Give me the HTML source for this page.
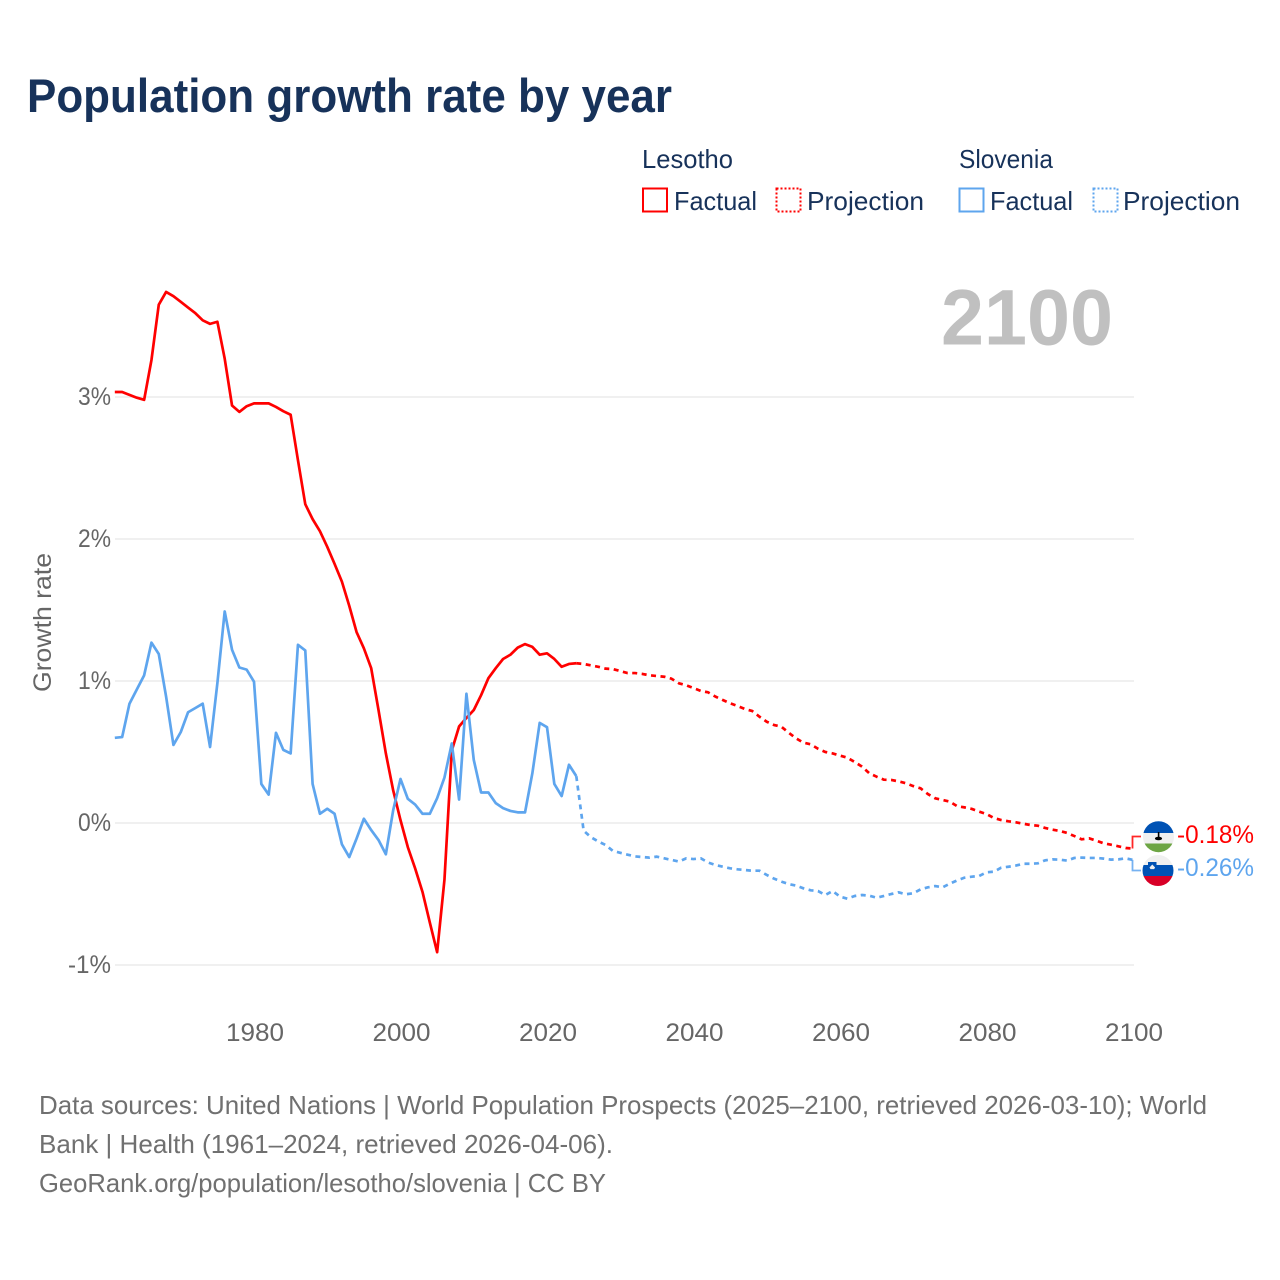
<!DOCTYPE html>
<html lang="en">
<head>
<meta charset="utf-8">
<title>Population growth rate by year</title>
<style>
html,body{margin:0;padding:0;background:#fff;width:1280px;height:1280px;overflow:hidden}
svg{display:block}
text{font-family:"Liberation Sans",sans-serif}
</style>
</head>
<body>
<svg id="chart" xmlns="http://www.w3.org/2000/svg" width="1280" height="1280" viewBox="0 0 1280 1280">
  <rect x="0" y="0" width="1280" height="1280" fill="#fff"/>
  <text x="27" y="112" font-size="47" font-weight="700" fill="#17325a" textLength="645" lengthAdjust="spacingAndGlyphs">Population growth rate by year</text>

  <g font-size="26" fill="#17325a">
    <text x="642" y="168" textLength="91" lengthAdjust="spacingAndGlyphs">Lesotho</text>
    <text x="959" y="168" textLength="94" lengthAdjust="spacingAndGlyphs">Slovenia</text>
    <rect x="643" y="188.5" width="24" height="23" fill="none" stroke="#ff0000" stroke-width="2"/>
    <text x="674" y="210" textLength="83" lengthAdjust="spacingAndGlyphs">Factual</text>
    <rect x="776.5" y="188.5" width="24" height="23" fill="none" stroke="#ff0000" stroke-width="2" stroke-dasharray="2 2"/>
    <text x="807" y="210" textLength="117" lengthAdjust="spacingAndGlyphs">Projection</text>
    <rect x="959.5" y="188.5" width="24" height="23" fill="none" stroke="#5ea5ee" stroke-width="2"/>
    <text x="990" y="210" textLength="83" lengthAdjust="spacingAndGlyphs">Factual</text>
    <rect x="1093.5" y="188.5" width="24" height="23" fill="none" stroke="#5ea5ee" stroke-width="2" stroke-dasharray="2 2"/>
    <text x="1123" y="210" textLength="117" lengthAdjust="spacingAndGlyphs">Projection</text>
  </g>

  <text x="941" y="344.5" font-size="79" font-weight="700" fill="#c0c0c0" textLength="172" lengthAdjust="spacingAndGlyphs">2100</text>

  <g id="grid"></g>
  <g id="yticks" font-size="25" fill="#666"></g>
  <g id="xticks" font-size="25" fill="#666"></g>
  <text transform="translate(51,622.5) rotate(-90)" text-anchor="middle" font-size="25" fill="#666" textLength="139" lengthAdjust="spacingAndGlyphs">Growth rate</text>

  <g id="series"></g>

  <defs>
    <clipPath id="clip-lesotho"><circle cx="1158.5" cy="836.7" r="15.5"/></clipPath>
    <clipPath id="clip-slovenia"><circle cx="1158" cy="870.5" r="15.5"/></clipPath>
  </defs>
  <g clip-path="url(#clip-lesotho)">
    <rect x="1143" y="821" width="31" height="12" fill="#0052b4"/>
    <rect x="1143" y="833" width="31" height="10.5" fill="#f0f0f0"/>
    <rect x="1143" y="843.5" width="31" height="9" fill="#6da544"/>
    <rect x="1157.8" y="832" width="1.6" height="6" fill="#000"/>
    <ellipse cx="1158.5" cy="838.5" rx="3.6" ry="1.8" fill="#000"/>
  </g>
  <g clip-path="url(#clip-slovenia)">
    <rect x="1142" y="855" width="32" height="10" fill="#f0f0f0"/>
    <rect x="1142" y="865" width="32" height="11" fill="#0052b4"/>
    <rect x="1142" y="876" width="32" height="11" fill="#d80027"/>
    <path d="M1148 862h8.5v5.5c0 1.8-2.4 3-4.2 3.5-1.8-.5-4.3-1.7-4.3-3.5z" fill="#0052b4"/>
    <path d="M1149.5 867.5l2.8-3 2.8 3-1 1.6h-3.6z" fill="#f0f0f0"/>
  </g>

  <g id="endlabels" font-size="25"></g>

  <g font-size="26" fill="#707070">
    <text x="39" y="1114" textLength="1168" lengthAdjust="spacingAndGlyphs">Data sources: United Nations | World Population Prospects (2025–2100, retrieved 2026-03-10); World</text>
    <text x="39" y="1153" textLength="574" lengthAdjust="spacingAndGlyphs">Bank | Health (1961–2024, retrieved 2026-04-06).</text>
    <text x="39" y="1192" textLength="567" lengthAdjust="spacingAndGlyphs">GeoRank.org/population/lesotho/slovenia | CC BY</text>
  </g>
</svg>
<script>
var factualStartYear = 1961;
var projectionStartYear = 2025;
var yTickValues = [3, 2, 1, 0, -1];
var yTickLabels = ['3%', '2%', '1%', '0%', '-1%'];
var xTickValues = [1980, 2000, 2020, 2040, 2060, 2080, 2100];
var xTickLabels = ['1980', '2000', '2020', '2040', '2060', '2080', '2100'];
var lesothoFactual = [3.035,3.035,3.015,2.995,2.98,3.26,3.65,3.74,3.71,3.67,3.63,3.59,3.54,3.515,3.53,3.27,2.94,2.895,2.935,2.955,2.955,2.955,2.93,2.90,2.875,2.555,2.245,2.14,2.055,1.945,1.825,1.70,1.53,1.345,1.23,1.09,0.795,0.49,0.23,0.02,-0.17,-0.32,-0.485,-0.70,-0.91,-0.40,0.51,0.68,0.74,0.795,0.90,1.02,1.09,1.155,1.185,1.235,1.26,1.24,1.185,1.195,1.155,1.10,1.12,1.125];
var lesothoProjection = [1.12,1.11,1.10,1.087,1.084,1.07,1.056,1.056,1.05,1.04,1.035,1.03,1.016,0.984,0.97,0.95,0.93,0.92,0.89,0.866,0.843,0.824,0.803,0.789,0.749,0.713,0.69,0.678,0.636,0.596,0.566,0.554,0.523,0.50,0.49,0.475,0.46,0.43,0.397,0.35,0.326,0.305,0.303,0.293,0.28,0.26,0.244,0.204,0.174,0.162,0.15,0.118,0.11,0.099,0.08,0.063,0.035,0.021,0.012,0.005,-0.005,-0.014,-0.019,-0.035,-0.047,-0.056,-0.07,-0.092,-0.115,-0.108,-0.125,-0.143,-0.153,-0.164,-0.176,-0.18];
var sloveniaFactual = [0.60,0.605,0.84,0.94,1.04,1.27,1.19,0.89,0.55,0.64,0.78,0.81,0.84,0.535,0.985,1.49,1.22,1.095,1.08,0.995,0.275,0.20,0.635,0.515,0.49,1.255,1.215,0.275,0.065,0.10,0.065,-0.15,-0.24,-0.11,0.03,-0.05,-0.12,-0.22,0.09,0.31,0.17,0.13,0.065,0.065,0.175,0.32,0.56,0.165,0.91,0.445,0.215,0.215,0.14,0.105,0.085,0.075,0.075,0.35,0.705,0.675,0.275,0.19,0.41,0.33];
var sloveniaProjection = [-0.054,-0.10,-0.13,-0.155,-0.197,-0.21,-0.223,-0.235,-0.24,-0.244,-0.237,-0.249,-0.26,-0.272,-0.249,-0.254,-0.249,-0.278,-0.296,-0.308,-0.319,-0.326,-0.331,-0.336,-0.336,-0.366,-0.392,-0.413,-0.43,-0.441,-0.46,-0.474,-0.479,-0.507,-0.479,-0.519,-0.533,-0.514,-0.507,-0.512,-0.526,-0.514,-0.50,-0.488,-0.502,-0.495,-0.467,-0.453,-0.444,-0.453,-0.427,-0.404,-0.385,-0.378,-0.373,-0.347,-0.343,-0.315,-0.308,-0.30,-0.287,-0.287,-0.284,-0.263,-0.256,-0.258,-0.265,-0.246,-0.244,-0.246,-0.246,-0.251,-0.258,-0.256,-0.249,-0.26];

var NS = 'http://www.w3.org/2000/svg';
var RED = '#ff0000';
var BLUE = '#5ea5ee';
function xScale(year) { return 254 + (year - 1980) * 7.325; }
function yScale(value) { return 823 - value * 142; }

function linePath(values, startYear, prefixPoint) {
  var d = prefixPoint ? 'M' + xScale(prefixPoint[0]).toFixed(2) + ' ' + yScale(prefixPoint[1]).toFixed(2) : '';
  for (var i = 0; i < values.length; i++) {
    d += (d ? 'L' : 'M') + xScale(startYear + i).toFixed(2) + ' ' + yScale(values[i]).toFixed(2);
  }
  return d;
}

var gridGroup = document.getElementById('grid');
var yGroup = document.getElementById('yticks');
var xGroup = document.getElementById('xticks');
var seriesGroup = document.getElementById('series');
var endGroup = document.getElementById('endlabels');

yTickValues.forEach(function (v, i) {
  var gl = document.createElementNS(NS, 'line');
  
  
  gl.setAttribute('x1', 115);
  gl.setAttribute('x2', 1134);
  gl.setAttribute('y1', yScale(v));
  gl.setAttribute('y2', yScale(v));
  gl.setAttribute('stroke', '#ebebeb');
  gl.setAttribute('stroke-width', '1.5');
  gridGroup.appendChild(gl);

  var t = document.createElementNS(NS, 'text');
  
  
  t.setAttribute('x', 111);
  t.setAttribute('y', yScale(v) + 8);
  t.setAttribute('text-anchor', 'end');
  t.setAttribute('textLength', yTickLabels[i].charAt(0) === '-' ? 43 : 33);
  t.setAttribute('lengthAdjust', 'spacingAndGlyphs');
  t.textContent = yTickLabels[i];
  yGroup.appendChild(t);
});

xTickValues.forEach(function (v, i) {
  var t = document.createElementNS(NS, 'text');
  
  
  t.setAttribute('x', xScale(v) + 1);
  t.setAttribute('y', 1041);
  t.setAttribute('text-anchor', 'middle');
  t.setAttribute('textLength', 58);
  t.setAttribute('lengthAdjust', 'spacingAndGlyphs');
  t.textContent = xTickLabels[i];
  xGroup.appendChild(t);
});

function addLine(d, color, dashed, name) {
  var p = document.createElementNS(NS, 'path');
  
  
  p.setAttribute('d', d);
  p.setAttribute('fill', 'none');
  p.setAttribute('stroke', color);
  p.setAttribute('stroke-width', '2.7');
  p.setAttribute('stroke-linejoin', 'round');
  if (dashed) { p.setAttribute('stroke-dasharray', '5 4.5'); }
  seriesGroup.appendChild(p);
}

var lesothoLast = [factualStartYear + lesothoFactual.length - 1, lesothoFactual[lesothoFactual.length - 1]];
var sloveniaLast = [factualStartYear + sloveniaFactual.length - 1, sloveniaFactual[sloveniaFactual.length - 1]];
addLine(linePath(lesothoProjection, projectionStartYear, lesothoLast), RED, true, 'lesotho-projection-line');
addLine(linePath(lesothoFactual, factualStartYear), RED, false, 'lesotho-factual-line');
addLine(linePath(sloveniaProjection, projectionStartYear, sloveniaLast), BLUE, true, 'slovenia-projection-line');
addLine(linePath(sloveniaFactual, factualStartYear), BLUE, false, 'slovenia-factual-line');

function addEnd(values, color, labelY, connY, name) {
  var last = values[values.length - 1];
  var x0 = xScale(projectionStartYear + values.length - 1) - 0.5;
  var conn = document.createElementNS(NS, 'path');
  
  
  conn.setAttribute('d', 'M' + x0 + ' ' + yScale(last) + 'V' + connY + 'H1141');
  conn.setAttribute('fill', 'none');
  conn.setAttribute('stroke', color);
  conn.setAttribute('stroke-width', '1.8');
  conn.setAttribute('stroke-opacity', '0.85');
  endGroup.appendChild(conn);

  var t = document.createElementNS(NS, 'text');
  
  
  t.setAttribute('x', 1177);
  t.setAttribute('y', labelY);
  t.setAttribute('fill', color);
  t.setAttribute('textLength', 77);
  t.setAttribute('lengthAdjust', 'spacingAndGlyphs');
  t.textContent = last.toFixed(2) + '%';
  endGroup.appendChild(t);
}
addEnd(lesothoProjection, RED, 843, 836.5, 'lesotho');
addEnd(sloveniaProjection, BLUE, 876, 870.5, 'slovenia');
</script>
</body>
</html>
